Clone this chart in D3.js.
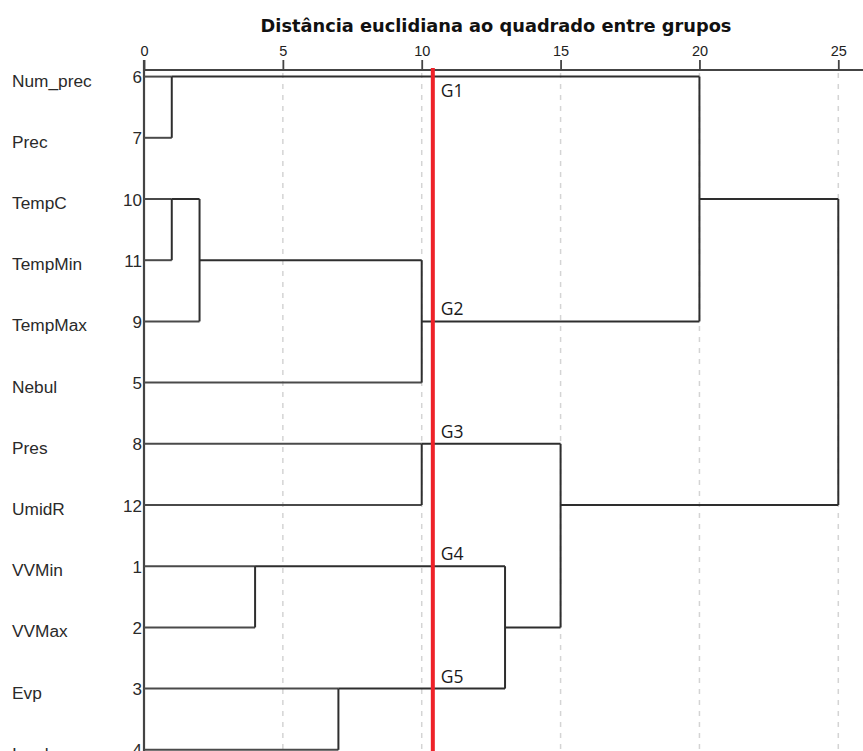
<!DOCTYPE html>
<html><head><meta charset="utf-8">
<script src="https://cdn.jsdelivr.net/npm/d3@7"></script>
<style>body{margin:0;background:#fff}svg{display:block}</style>
</head><body>
<script>
// ---- data ----
const leafNames   = ["Num_prec","Prec","TempC","TempMin","TempMax","Nebul","Pres","UmidR","VVMin","VVMax","Evp","Insol"];
const leafNumbers = [6,7,10,11,9,5,8,12,1,2,3,4];
// merges: cluster ids 0..11 are leaves, merge k creates cluster 12+k
const mergeA    = [0, 2, 13, 8, 10, 6, 14, 15, 17, 12, 21];
const mergeB    = [1, 3, 4,  9, 11, 7, 5,  16, 19, 18, 20];
const mergeDist = [1, 1, 2,  4, 7, 10, 10, 13, 15, 20, 25];
const axisTicks = [0,5,10,15,20,25];
const title = "Distância euclidiana ao quadrado entre grupos";
const cutValue = 10.4;
const groupLabels = ["G1","G2","G3","G4","G5"];
const groupRows   = [0, 4, 6, 8, 10];

// ---- layout ----
const W = 863, H = 751;
const svg = d3.select("body").append("svg").attr("width", W).attr("height", H);
const x = d3.scaleLinear().domain([0, 25]).range([144, 838.3]);
const y = d3.scaleLinear().domain([0, 11]).range([76.6, 749.8]);
const axisY = 70;

// grid lines
svg.append("g").selectAll("line").data(axisTicks.filter(d => d > 0)).join("line")
  .attr("x1", d => x(d)).attr("x2", d => x(d))
  .attr("y1", axisY + 3).attr("y2", H)
  .attr("stroke", "#d4d4d4").attr("stroke-width", 1.5).attr("stroke-dasharray", "5,6");

// title
svg.append("text").attr("x", 496).attr("y", 31.5).attr("text-anchor", "middle")
  .attr("font-family", "DejaVu Sans").attr("font-weight", "bold").attr("font-size", 17.8)
  .attr("fill", "#111").text(title);

// top axis
const axis = d3.axisTop(x).tickValues(axisTicks).tickSize(10).tickPadding(4).tickFormat(d3.format("d"));
const ag = svg.append("g").attr("transform", `translate(0,${axisY})`).call(axis);
ag.select(".domain").remove();
ag.selectAll(".tick line").attr("stroke", "#444").attr("stroke-width", 1.8);
ag.selectAll(".tick text").attr("font-family", "Liberation Sans").attr("font-size", 14.5).attr("fill", "#222");
svg.append("line").attr("x1", x(0)).attr("x2", W).attr("y1", axisY).attr("y2", axisY)
  .attr("stroke", "#444").attr("stroke-width", 2.2);
svg.append("line").attr("x1", x(0)).attr("x2", x(0)).attr("y1", axisY - 10).attr("y2", H)
  .attr("stroke", "#444").attr("stroke-width", 2.2);

// leaf labels
svg.append("g").selectAll("text").data(leafNames).join("text")
  .attr("x", 12).attr("y", (d, i) => y(i) + 10)
  .attr("font-family", "Liberation Sans").attr("font-size", 17.3).attr("fill", "#2a2a2a").text(d => d);
svg.append("g").selectAll("text").data(leafNumbers).join("text")
  .attr("x", 142).attr("y", (d, i) => y(i) + 6.5).attr("text-anchor", "end")
  .attr("font-family", "Liberation Sans").attr("font-size", 17).attr("fill", "#2a2a2a").text(d => d);

// dendrogram
const nodes = leafNames.map((n, i) => ({row: i, dist: 0, leaf: true}));
mergeA.forEach((a, k) => {
  const A = nodes[a], B = nodes[mergeB[k]];
  nodes.push({row: Math.floor((A.row + B.row) / 2), dist: mergeDist[k], leaf: false, a: A, b: B});
});
const segs = [];
nodes.forEach(n => {
  if (n.leaf) return;
  [n.a, n.b].forEach(c => segs.push({x1: x(c.dist), x2: x(n.dist), y1: y(c.row), y2: y(c.row), leaf: c.leaf}));
  segs.push({x1: x(n.dist), x2: x(n.dist), y1: y(n.a.row), y2: y(n.b.row), leaf: false});
});
svg.append("g").selectAll("line").data(segs).join("line")
  .attr("x1", d => d.x1).attr("x2", d => d.x2).attr("y1", d => d.y1).attr("y2", d => d.y2)
  .attr("stroke", d => d.leaf ? "#4a4a4a" : "#2e2e2e").attr("stroke-width", 2);

// cut line
svg.append("line").attr("x1", x(cutValue)).attr("x2", x(cutValue)).attr("y1", 68).attr("y2", H)
  .attr("stroke", "#ee2229").attr("stroke-width", 4);

// group labels
svg.append("g").selectAll("text").data(groupLabels).join("text")
  .attr("x", x(cutValue) + 8)
  .attr("y", (d, i) => groupRows[i] === 0 ? y(0) + 20 : y(groupRows[i]) - 6)
  .attr("font-family", "Open Sans").attr("font-size", 17.5).attr("fill", "#1a1a1a").text(d => d);
</script>
</body></html>
